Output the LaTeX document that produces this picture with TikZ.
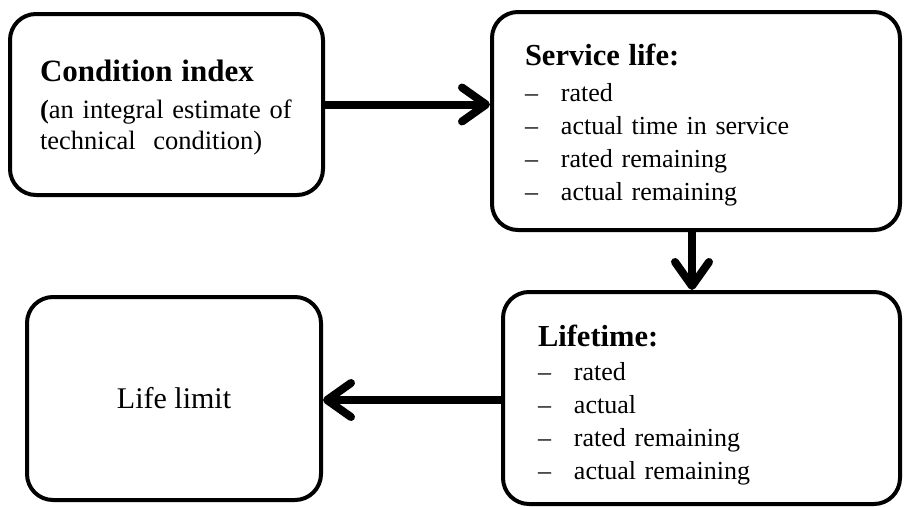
\documentclass[tikz,border=0pt]{standalone}
\usepackage{fontspec}
\setmainfont{Liberation Serif}
\usetikzlibrary{arrows.meta, positioning}

\newcommand{\itm}{\makebox[36pt][l]{--}}
\newcommand{\ttl}[2]{{\fontsize{30.5}{36}\selectfont\bfseries\rule{0pt}{#1}#2}}

\begin{document}
\begin{tikzpicture}[
  x=1pt, y=-1pt,
  every node/.style={font=\fontsize{26}{33}\selectfont},
  box/.style={draw=black, fill=white, line width=4pt, rounded corners=26pt,
              align=left, inner ysep=0pt},
  flow/.style={line width=8pt,
               -{Straight Barb[length=24pt, width=34pt, line cap=round, line join=round]}}
]
  \useasboundingbox (0,0) rectangle (904,506);

  % upper row
  \node[box, inner xsep=30pt, text width=253pt, minimum height=181pt,
        font=\fontsize{26.5}{31}\selectfont] (cond) at (166.5,104.5)
    {{\fontsize{31}{36}\selectfont\bfseries\rule{0pt}{27pt}Condition index}\\[6pt]
     {\bfseries(}an integral estimate of\\
     technical\ \ condition)};
  \node[box, inner xsep=33pt, text width=342pt, minimum height=218pt] (serv) at (696,121)
    {\ttl{30pt}{Service life:}\\[3pt]
     \itm rated\\
     \itm actual time in service\\
     \itm rated remaining\\
     \itm actual remaining};

  % lower row
  \node[box, inner xsep=35pt, text width=327pt, minimum height=212pt] (life) at (701.5,398)
    {\ttl{36pt}{Lifetime:}\\[1pt]
     \itm rated\\
     \itm actual\\
     \itm rated remaining\\
     \itm actual remaining};
  \node[box, align=center, minimum width=294pt, minimum height=203pt,
        font=\fontsize{30}{36}\selectfont] (limit) at (174,398.5) {Life limit};

  \draw[flow] (cond.east) -- (cond.east -| serv.west);
  \draw[flow] ([xshift=-4pt]serv.south) -- ([xshift=-4pt]serv.south |- life.north);
  \draw[flow] ([yshift=-2pt]life.west) -- ([yshift=-2pt]life.west -| limit.east);
\end{tikzpicture}
\end{document}
